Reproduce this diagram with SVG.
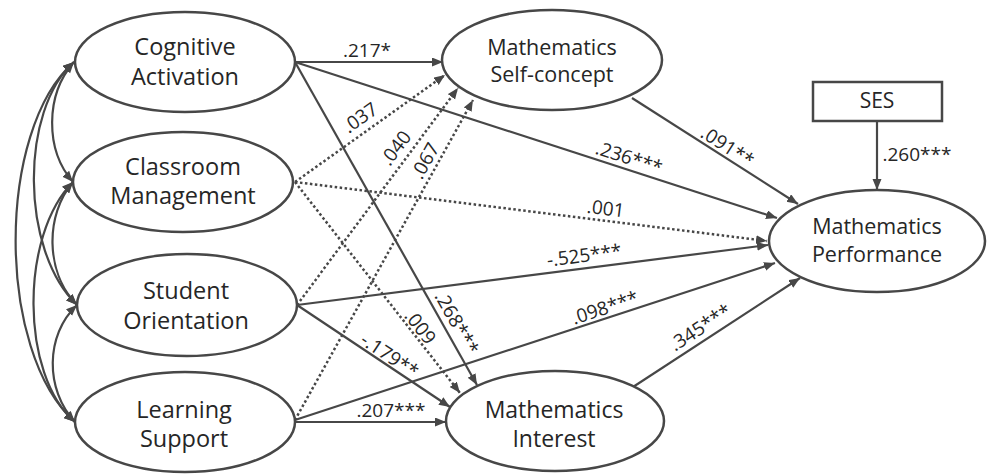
<svg xmlns="http://www.w3.org/2000/svg" width="987" height="475" viewBox="0 0 987 475">
<defs>
<marker id="ah" markerUnits="userSpaceOnUse" markerWidth="12" markerHeight="10" refX="11" refY="4.5" orient="auto-start-reverse">
<path d="M0,0 L11,4.5 L0,9 z" fill="#474747"/>
</marker>
<style>
.n{fill:#fff;stroke:#474747;stroke-width:2.5}
.t{font-family:"Open Sans","Noto Sans",sans-serif;fill:#262626;text-anchor:middle}
.big{font-size:23.5px}
.mid{font-size:21.5px}
.lb{font-family:"Open Sans","Noto Sans",sans-serif;fill:#262626;font-size:19px;text-anchor:middle}
.s{fill:none;stroke:#474747;stroke-width:2.2;marker-end:url(#ah)}
.d{fill:none;stroke:#474747;stroke-width:2.5;stroke-dasharray:2.5 2.5;marker-end:url(#ah)}
.c{fill:none;stroke:#474747;stroke-width:2.2;marker-start:url(#ah);marker-end:url(#ah)}
</style>
</defs>
<rect width="987" height="475" fill="#fff"/>
<g id="connectors">
<path class="c" d="M74,62 C45,95 45,150 73,182"/>
<path class="c" d="M73,182 C45,215 45,272 77,305"/>
<path class="c" d="M77,305 C45,335 45,390 75,422"/>
<path class="c" d="M74,62 C20,110 20,250 77,305"/>
<path class="c" d="M73,182 C20,235 20,375 75,422"/>
<path class="c" d="M74,62 C-4,130 -4,352 75,422"/>
<line class="s" x1="295" y1="62" x2="443" y2="62"/>
<line class="s" x1="295" y1="62" x2="777" y2="218"/>
<line class="s" x1="295" y1="62" x2="477" y2="385"/>
<line class="d" x1="295" y1="182" x2="445" y2="75"/>
<line class="d" x1="297" y1="305" x2="458" y2="88"/>
<line class="d" x1="295" y1="420" x2="473" y2="100"/>
<line class="d" x1="295" y1="182" x2="767" y2="241"/>
<line class="d" x1="295" y1="182" x2="460" y2="393"/>
<line class="s" x1="297" y1="305" x2="768" y2="245"/>
<line class="s" x1="297" y1="305" x2="450" y2="407"/>
<line class="s" x1="295" y1="420" x2="775" y2="263"/>
<line class="s" x1="295" y1="422" x2="446" y2="422"/>
<line class="s" x1="632" y1="98" x2="798" y2="204"/>
<line class="s" x1="633" y1="387" x2="800" y2="278"/>
<line class="s" x1="877" y1="121" x2="877" y2="190"/>
<text class="lb" x="367" y="57">.217*</text>
<text class="lb" transform="translate(364,123) rotate(-35.5)">.037</text>
<text class="lb" transform="translate(401,152) rotate(-53.4)">.040</text>
<text class="lb" transform="translate(431,164) rotate(-60.9)">.067</text>
<text class="lb" transform="translate(627,164) rotate(17.9)">.236***</text>
<text class="lb" transform="translate(605,215) rotate(7.1)">.001</text>
<text class="lb" transform="translate(724,152) rotate(32.6)">.091**</text>
<text class="lb" x="917" y="161">.260***</text>
<text class="lb" transform="translate(585,262) rotate(-7.3)">-.525***</text>
<text class="lb" transform="translate(607,314) rotate(-18.1)">.098***</text>
<text class="lb" transform="translate(704,333) rotate(-33.1)">.345***</text>
<text class="lb" transform="translate(451,326) rotate(60.6)">.268***</text>
<text class="lb" transform="translate(415,331) rotate(52)">.009</text>
<text class="lb" transform="translate(386,361) rotate(33.7)">-.179**</text>
<text class="lb" x="391" y="417">.207***</text>
</g>
<g id="cognitive-activation">
<ellipse class="n" cx="185" cy="62" rx="110" ry="50"/>
<text class="t big" x="185" y="55">Cognitive</text>
<text class="t big" x="185" y="85">Activation</text>
</g>
<g id="classroom-management">
<ellipse class="n" cx="183" cy="182" rx="110" ry="50"/>
<text class="t big" x="183" y="175">Classroom</text>
<text class="t big" x="183" y="204">Management</text>
</g>
<g id="student-orientation">
<ellipse class="n" cx="187" cy="305" rx="110" ry="51"/>
<text class="t big" x="186" y="299">Student</text>
<text class="t big" x="186" y="329">Orientation</text>
</g>
<g id="learning-support">
<ellipse class="n" cx="185" cy="422" rx="110" ry="50"/>
<text class="t big" x="184" y="418">Learning</text>
<text class="t big" x="184" y="447">Support</text>
</g>
<g id="math-self-concept">
<ellipse class="n" cx="552" cy="60" rx="110" ry="50"/>
<text class="t mid" x="552" y="55">Mathematics</text>
<text class="t mid" x="552" y="82">Self-concept</text>
</g>
<g id="math-interest">
<ellipse class="n" cx="555" cy="421" rx="109" ry="50"/>
<text class="t" style="font-size:23px" x="554" y="418">Mathematics</text>
<text class="t" style="font-size:23px" x="554" y="447">Interest</text>
</g>
<g id="math-performance">
<ellipse class="n" cx="877" cy="241" rx="108" ry="51"/>
<text class="t mid" x="877" y="234">Mathematics</text>
<text class="t mid" x="877" y="262">Performance</text>
</g>
<g id="ses">
<rect class="n" x="813" y="82" width="129" height="39"/>
<text class="t" style="font-size:21px" x="877" y="108">SES</text>
</g>
</svg>
